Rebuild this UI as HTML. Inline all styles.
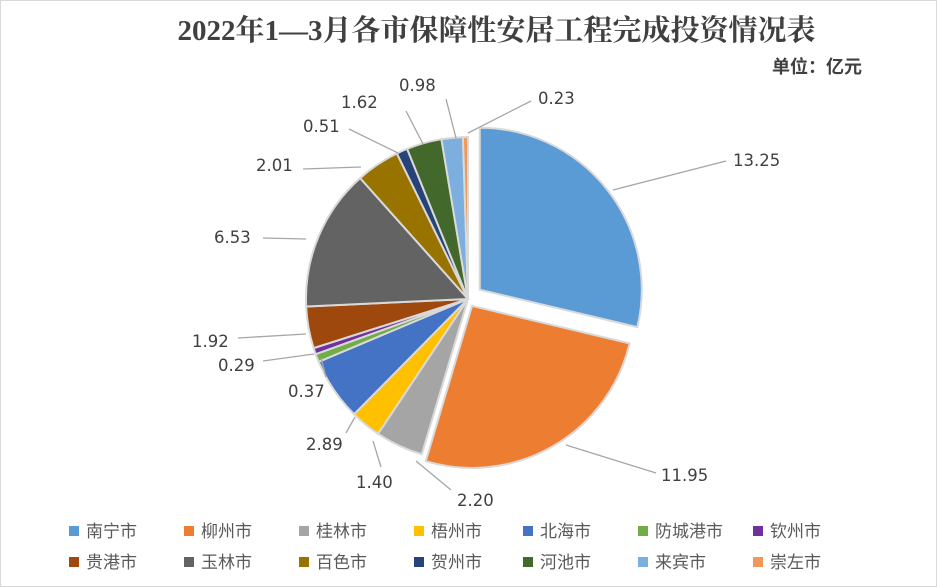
<!DOCTYPE html>
<html><head><meta charset="utf-8"><style>
body{margin:0;background:#fff}
#w{position:relative;width:935px;height:585px;border:1px solid #d9d9d9;overflow:hidden;font-family:"Liberation Sans","Noto Sans CJK SC",sans-serif}
.t{position:absolute;left:28px;width:935px;top:7px;text-align:center;font-family:"Liberation Serif","Noto Serif CJK SC",serif;font-weight:bold;font-size:29px;color:#404040}
.u{position:absolute;right:74px;top:52px;font-size:18px;font-weight:bold;color:#404040}
.lg{position:absolute;font-size:17px;color:#595959;white-space:nowrap}
.lg i{display:inline-block;width:10px;height:10px;margin-right:7px;vertical-align:1px}
</style></head><body><div id="w">
<div class="t">2022年1—3月各市保障性安居工程完成投资情况表</div>
<div class="u">单位：亿元</div>
<svg id="s" width="935" height="585" style="position:absolute;left:0;top:0"></svg>
<div id="l"></div>
</div>
<script>
var v=[13.25,11.95,2.20,1.40,2.89,0.37,0.29,1.92,6.53,2.01,0.51,1.62,0.98,0.23];
var n=["南宁市","柳州市","桂林市","梧州市","北海市","防城港市","钦州市","贵港市","玉林市","百色市","贺州市","河池市","来宾市","崇左市"];
var c=["#5B9BD5","#ED7D31","#A5A5A5","#FFC000","#4472C4","#70AD47","#7030A0","#9E480E","#636363","#997300","#264478","#43682B","#7CAFDD","#F1975A"];
var tot=v.reduce((a,b)=>a+b,0),cx=467,cy=298,r=162,a=0,h="";
var ex=[15,8,0,0,0,0,0,0,0,0,0,0,0,0];
function P(ang,rr,ox,oy){return [ox+rr*Math.sin(ang),oy-rr*Math.cos(ang)];}
for(var i=0;i<v.length;i++){var s=a,e=a+v[i]/tot*2*Math.PI;a=e;var m=(s+e)/2;
var ox=cx+ex[i]*Math.sin(m),oy=cy-ex[i]*Math.cos(m);
var p1=P(s,r,ox,oy),p2=P(e,r,ox,oy);
h+='<path d="M'+ox+' '+oy+'L'+p1+'A'+r+' '+r+' 0 '+((e-s)>Math.PI?1:0)+' 1 '+p2+'Z" fill="'+c[i]+'" stroke="#d9d9d9" stroke-width="2"/>';}
var L=[["13.25",732,165,612,189,725,160],["11.95",660,480,565,444,655,472],["2.20",456,505,415,460,450,489],["1.40",355,487,372,440,380,466],["2.89",305,449,354,416,345,432],["0.37",287,396,320,357,325,376],["0.29",217,370,313,353,262,360],["1.92",191,346,305,333,237,337],["6.53",213,242,305,238,262,237],["2.01",255,170,360,166,302,168],["0.51",302,131,397,152,348,128],["1.62",340,107,422,143,405,110],["0.98",398,90,455,137,445,98],["0.23",537,103,467,132,530,100]];
L.forEach(function(q){h+='<line x1="'+q[3]+'" y1="'+q[4]+'" x2="'+q[5]+'" y2="'+q[6]+'" stroke="#a6a6a6" stroke-width="1.3"/><text x="'+q[1]+'" y="'+q[2]+'" font-size="16.5" fill="#404040" font-family="DejaVu Sans,sans-serif">'+q[0]+'</text>';});
document.getElementById("s").innerHTML=h;
var lx=[68,183,298,413,522,637,752],lh="";
for(var i=0;i<14;i++){var row=i<7?0:1,col=i%7;lh+='<div class="lg" style="left:'+lx[col]+'px;top:'+(516+row*31)+'px"><i style="background:'+c[i]+'"></i>'+n[i]+'</div>';}
document.getElementById("l").innerHTML=lh;
</script></body></html>
